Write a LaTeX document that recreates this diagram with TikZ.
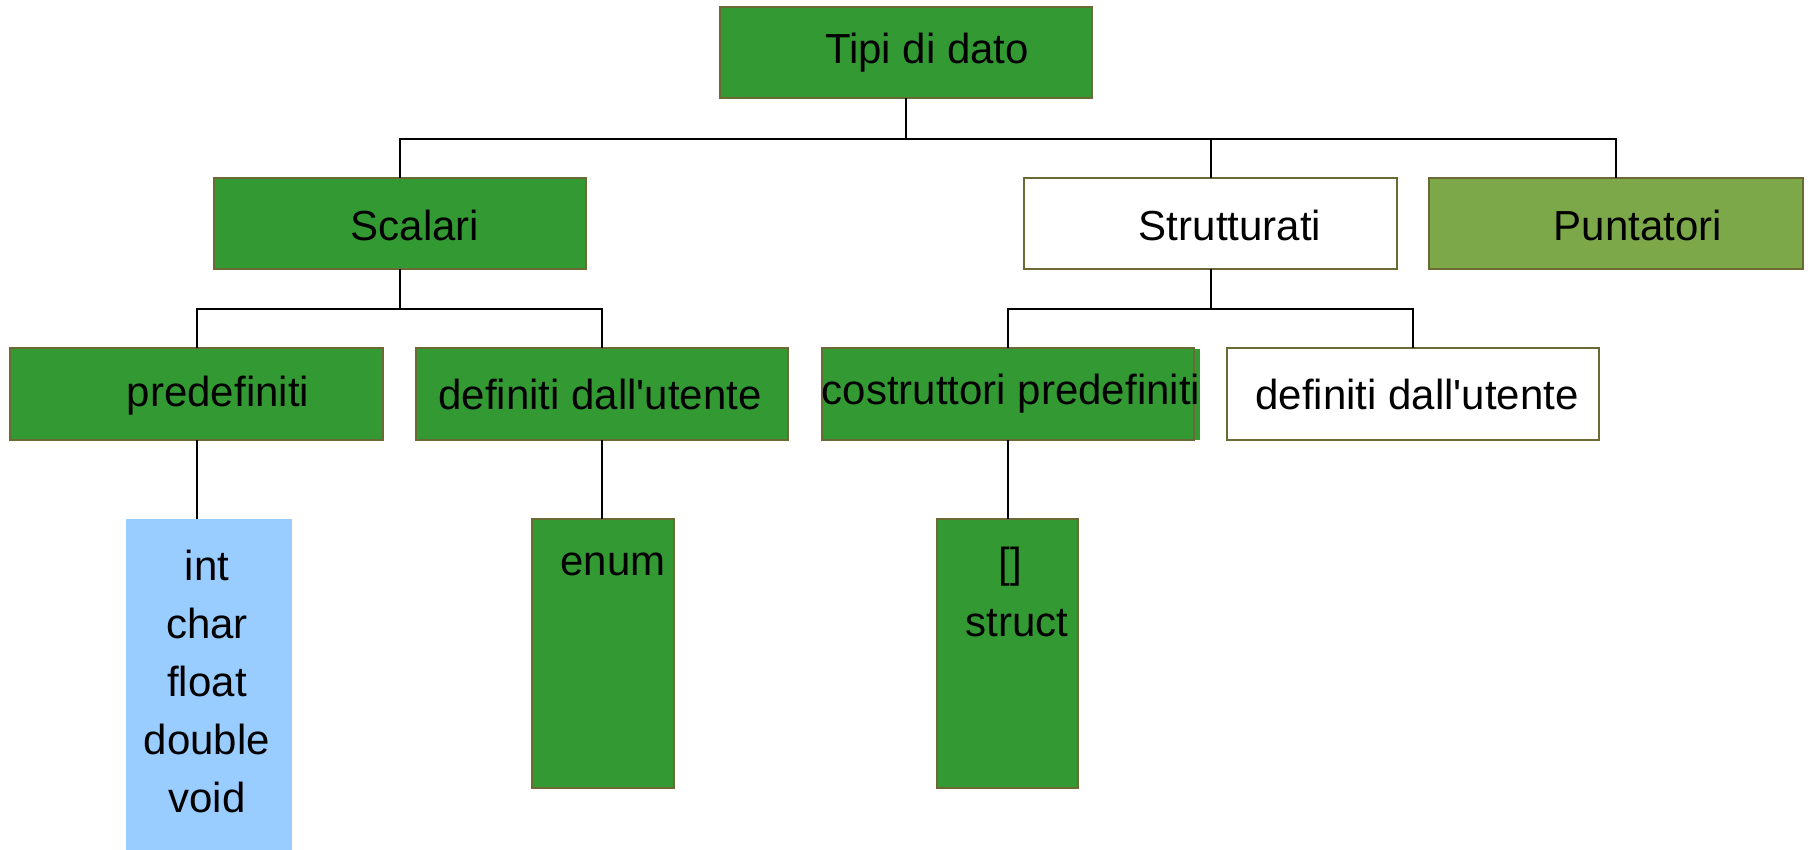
\documentclass[tikz,border=0pt]{standalone}
\usepackage{fontspec}
\setmainfont{Liberation Sans}
\definecolor{boxgreen}{HTML}{339933}
\definecolor{olivegreen}{HTML}{7DA84A}
\definecolor{boxborder}{HTML}{6B6A35}
\definecolor{lightblue}{HTML}{99CCFF}
\begin{document}
\begin{tikzpicture}[x=0.5pt,y=-0.5pt,
  sz/.style 2 args={minimum width=#1*0.5pt, minimum height=#2*0.5pt, inner sep=0pt, outer sep=0pt},
  gbox/.style={draw=boxborder, line width=1.2pt, fill=boxgreen},
  wbox/.style={draw=boxborder, line width=1.2pt, fill=white},
  pbox/.style={draw=boxborder, line width=1.2pt, fill=olivegreen},
  bbox/.style={fill=lightblue},
  txt/.style={font=\fontsize{21pt}{29pt}\selectfont, inner sep=0pt, text=black},
  conn/.style={line width=1pt, black}]
\useasboundingbox (0,0) rectangle (1812,850);
% boxes
\node[gbox, sz={372}{91}] (tipi) at (906,52.5) {};
\node[gbox, sz={372}{91}] (scal) at (400,223.5) {};
\node[wbox, sz={373}{91}] (strut) at (1210.5,223.5) {};
\node[pbox, sz={374}{91}] (punt) at (1616,223.5) {};
\node[gbox, sz={373}{92}] (pred) at (196.5,394) {};
\node[gbox, sz={372}{92}] (defl) at (602,394) {};
\node[gbox, sz={372}{92}] (cost) at (1008,394) {};
\fill[boxgreen] (1194.5,349) rectangle (1200,440);
\node[wbox, sz={372}{92}] (defr) at (1413,394) {};
\node[bbox, sz={166}{331}] (int) at (209,684.5) {};
\node[gbox, sz={142}{269}] (enum) at (603,653.5) {};
\node[gbox, sz={141}{269}] (struct) at (1007.5,653.5) {};
% texts
\node[txt] (ttipi) at (927,53) {Tipi di dato};
\node[txt] (tscal) at (415,225) {Scalari};
\node[txt] (tstrut) at (1230,225) {Strutturati};
\node[txt] (tpunt) at (1638,225) {Puntatori};
\node[txt] (tpred) at (218,396) {predefiniti};
\node[txt] (tdefl) at (600,394) {definiti dall\textquotesingle utente};
\node[txt] (tcost) at (1011,394) {costruttori predefiniti};
\node[txt] (tdefr) at (1417,394) {definiti dall\textquotesingle utente};
\node[txt, align=center] (tint) at (207,681) {int\\char\\float\\double\\void};
\node[txt] (tenum) at (613,564) {enum};
\node[txt] (tarr) at (1010,567) {[]};
\node[txt] (tstr) at (1017,623) {struct};
% connectors
\coordinate (j1) at (906,139);
\coordinate (j2) at (400,309);
\coordinate (j3) at (1210.5,309);
\draw[conn] (tipi.south) -- (j1);
\draw[conn] (scal.north) |- (j1);
\draw[conn] (punt.north) |- (j1);
\draw[conn] (strut.north) -- (strut.north |- j1);
\draw[conn] (scal.south) -- (j2);
\draw[conn] (pred.north) |- (j2);
\draw[conn] (defl.north) |- (j2);
\draw[conn] (strut.south) -- (j3);
\draw[conn] (cost.north) |- (j3);
\draw[conn] (defr.north) |- (j3);
\draw[conn] (pred.south) -- (pred.south |- int.north);
\draw[conn] (defl.south) -- (defl.south |- enum.north);
\draw[conn] (cost.south) -- (cost.south |- struct.north);
\end{tikzpicture}
\end{document}
